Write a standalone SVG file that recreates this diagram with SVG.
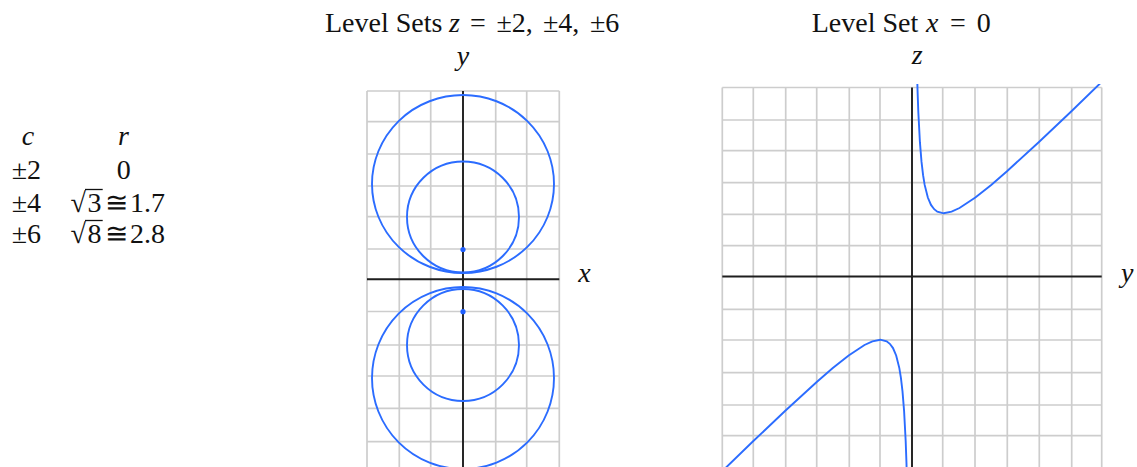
<svg xmlns="http://www.w3.org/2000/svg" width="1137" height="467" viewBox="0 0 1137 467">
<style>
text{font-family:"Liberation Serif","DejaVu Serif",serif;font-size:28px;fill:#111}
.i{font-style:italic}
.grid{stroke:#cdcdcd;stroke-width:1.7;fill:none}
.axis{stroke:#1e1e1e;stroke-width:1.9;fill:none}
.crv{stroke:#2b6cff;stroke-width:1.9;fill:none}
.dot{fill:#1f5fff}
.vin{stroke:#111;stroke-width:1.3}
</style>
<defs>
<clipPath id="clipL"><rect x="365" y="89" width="197" height="380"/></clipPath>
<clipPath id="clipR"><rect x="720" y="84" width="384" height="385"/></clipPath>
</defs>

<g id="table">
<text class="i" x="21.7" y="145">c</text>
<text class="i" x="118" y="145">r</text>
<text x="11.7" y="179">±2</text>
<text x="116.7" y="179">0</text>
<text x="11.7" y="211.5">±4</text>
<text x="70.5" y="211.5">√</text>
<text x="87.5" y="211.5">3</text>
<line class="vin" x1="85" y1="189.5" x2="102.7" y2="189.5"/>
<text x="105" y="211.5">≅</text>
<text x="130" y="211.5">1.7</text>
<text x="11.7" y="242.5">±6</text>
<text x="70.5" y="242.5">√</text>
<text x="87.5" y="242.5">8</text>
<line class="vin" x1="85" y1="220.5" x2="102.7" y2="220.5"/>
<text x="105" y="242.5">≅</text>
<text x="130" y="242.5">2.8</text>
</g>

<g id="plotLeft">
<text y="32"><tspan x="325">Level Sets</tspan><tspan class="i" x="449">z</tspan><tspan x="470">=</tspan><tspan x="496.5">±2,</tspan><tspan x="543">±4,</tspan><tspan x="590">±6</tspan></text>
<text class="i" x="456.7" y="65">y</text>
<text class="i" x="578.3" y="282">x</text>
<path class="grid" d="M367 91V467M399.3 91V467M430.7 91V467M495.7 91V467M526.7 91V467M559.3 91V467M367 91H559.3M367 121.7H559.3M367 154H559.3M367 186H559.3M367 216.7H559.3M367 249H559.3M367 311.5H559.3M367 345H559.3M367 376H559.3M367 408.3H559.3M367 441.7H559.3"/>
<path class="axis" d="M463 91V467M367 279.3H559.3"/>
<g clip-path="url(#clipL)">
<ellipse class="crv" cx="463" cy="184" rx="91" ry="89"/>
<ellipse class="crv" cx="463" cy="217" rx="56" ry="55.5"/>
<ellipse class="crv" cx="463" cy="345" rx="56" ry="56"/>
<ellipse class="crv" cx="463" cy="378" rx="91" ry="91"/>
</g>
<circle class="dot" cx="463" cy="249.5" r="2.6"/>
<circle class="dot" cx="463" cy="311.7" r="2.6"/>
</g>

<g id="plotRight">
<text y="32"><tspan x="811.7">Level Set</tspan><tspan class="i" x="926">x</tspan><tspan x="950">=</tspan><tspan x="976.7">0</tspan></text>
<text class="i" x="911.7" y="64">z</text>
<text class="i" x="1121" y="282">y</text>
<path class="grid" d="M722.3 87.5V467M753.3 87.5V467M785.7 87.5V467M816.7 87.5V467M849.3 87.5V467M880 87.5V467M942.7 87.5V467M975 87.5V467M1007.3 87.5V467M1039.3 87.5V467M1071.7 87.5V467M1101.7 87.5V467M722.3 87.5H1101.7M722.3 120H1101.7M722.3 150.7H1101.7M722.3 182.7H1101.7M722.3 214.3H1101.7M722.3 245.7H1101.7M722.3 309.3H1101.7M722.3 340H1101.7M722.3 372.7H1101.7M722.3 405H1101.7M722.3 435.7H1101.7"/>
<path class="axis" d="M912 87.5V467M722.3 276.5H1101.7"/>
<g clip-path="url(#clipR)">
<polyline class="crv" points="916.75,61.1 917.4,85.3 917.54,90.4 918.33,112.2 919.92,142.2 921.5,161.7 923.08,175.2 924.67,184.9 927.83,197.5 931,204.9 934.17,209.2 937.34,211.7 943.67,213.3 951.59,211.7 959.5,208 975.34,197.5 991.2,184.9 1007,171.2 1038.7,142.2 1070.4,112.2 1102,81.6"/>
<polyline class="crv" points="907.25,491.9 906.6,467.7 906.46,462.6 905.67,440.8 904.08,410.8 902.5,391.3 900.92,377.8 899.33,368.1 896.17,355.5 893,348.1 889.83,343.8 886.66,341.3 880.33,339.7 872.41,341.3 864.5,345 848.66,355.5 832.8,368.1 817,381.8 785.3,410.8 753.6,440.8 722,471.4"/>
</g>
</g>
</svg>
